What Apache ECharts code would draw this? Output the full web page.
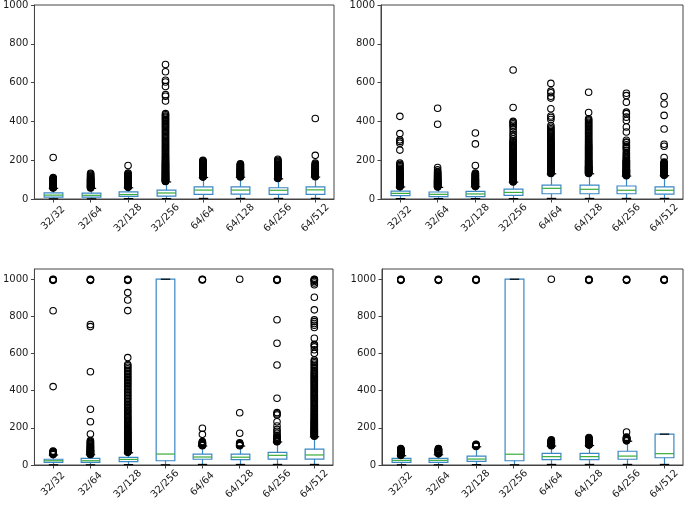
<!DOCTYPE html>
<html>
<head>
<meta charset="utf-8">
<script src="https://cdn.jsdelivr.net/npm/echarts@6/dist/echarts.min.js"></script>
<style>
html,body{margin:0;padding:0;background:#fff;}
#chart{width:685px;height:507px;}
</style>
</head>
<body>
<div id="chart"></div>
<script>
// ---------- DATA ----------
var categories = ['32/32', '32/64', '32/128', '32/256', '64/64', '64/128', '64/256', '64/512'];
var yTicksTop = [0, 200, 400, 600, 800, 1000];
var yTicksBottom = [0, 200, 400, 600, 800, 1000];

// box stats per category: [lower whisker, Q1, median, Q3, upper whisker]
var p1Stats = [
  [1, 10, 20, 32, 55], [1, 10, 19, 30, 55], [2, 14, 23, 37, 58], [2, 15, 31, 46, 88],
  [3, 24, 46, 63, 111], [3, 25, 46, 63, 112], [3, 24, 45, 58, 104], [3, 24, 47, 62, 113]
];
var p2Stats = [
  [2, 17, 29, 41, 62], [2, 12, 24, 36, 60], [2, 12, 26, 39, 63], [2, 19, 34, 51, 87],
  [3, 27, 55, 72, 130], [3, 27, 50, 72, 130], [3, 27, 45, 67, 118], [3, 25, 45, 62, 120]
];
var p3Stats = [
  [1, 14, 23, 31, 54], [1, 14, 23, 36, 55], [2, 18, 30, 41, 66], [1, 23, 59, 1000, 1000],
  [3, 31, 43, 59, 102], [3, 29, 42, 58, 102], [3, 32, 52, 68, 124], [3, 32, 54, 85, 152]
];
var p4Stats = [
  [1, 14, 25, 36, 50], [1, 14, 25, 36, 55], [2, 20, 32, 48, 98], [1, 23, 58, 1000, 1000],
  [3, 29, 45, 63, 102], [3, 29, 45, 63, 105], [3, 31, 48, 74, 128], [3, 39, 61, 166, 166]
];

// outliers per category
var p1Outliers = [
  [57,58,60,61,63,64,66,67,69,70,72,73,75,76,78,80,81,83,84,86,88,89,91,93,95,97,99,101,103,105,107,110,214],
  [57,59,60,62,64,65,67,69,71,72,74,76,78,80,82,84,86,88,90,92,94,96,98,100,103,105,108,111,114,118,123,128,133],
  [60,62,64,66,68,70,72,74,76,78,80,82,84,86,88,90,92,94,96,98,100,102,104,107,110,113,116,119,122,126,130,134,173],
  [90,92,94,96,98,100,102,104,106,108,110,112,115,117,120,122,125,127,130,132,135,138,140,143,146,149,152,155,158,161,164,167,170,173,176,180,183,186,190,194,198,202,207,212,217,222,228,233,239,245,250,256,262,268,273,279,285,291,297,303,309,316,322,329,335,342,348,355,361,368,374,380,386,392,398,404,410,416,422,428,434,440,505,530,538,580,603,612,656,693],
  [113,115,117,119,121,123,125,127,129,131,133,135,137,139,141,143,145,147,150,152,155,158,161,164,167,170,173,176,179,182,185,188,191,194,197,200],
  [114,116,118,120,122,124,126,128,130,132,134,136,138,140,142,144,146,148,150,152,155,158,161,164,167,170,173,176,179,182],
  [106,108,110,112,114,116,118,120,122,124,126,128,130,132,134,136,138,141,144,147,150,153,156,159,162,165,168,171,174,177,180,184,188,192,196,200,205],
  [115,117,119,121,123,125,127,129,131,133,135,137,139,141,143,145,148,151,154,157,160,163,166,169,172,176,180,185,225,415]
];
var p2Outliers = [
  [63,65,67,69,71,73,75,77,79,81,83,85,87,89,91,93,95,97,99,101,103,105,107,110,113,116,119,122,125,128,131,134,137,141,145,150,155,160,166,172,178,185,252,288,297,305,337,426],
  [62,64,66,68,70,72,74,76,78,80,82,84,86,88,90,92,94,96,98,100,103,106,109,112,115,118,121,125,129,133,137,141,150,162,385,468],
  [65,67,69,71,73,75,77,79,81,83,85,87,89,91,93,95,97,99,101,103,106,109,112,115,118,121,124,127,130,134,173,284,340],
  [88,90,92,94,96,98,100,102,104,106,108,110,113,116,119,122,125,128,131,134,137,140,143,146,149,152,155,158,161,164,167,170,174,178,182,186,190,194,198,202,206,210,214,218,222,226,230,235,240,245,250,255,260,265,270,275,280,285,290,295,300,310,322,333,345,360,372,380,388,395,400,472,665],
  [132,134,136,138,140,142,144,146,148,150,152,154,156,158,160,162,164,166,168,170,173,176,179,182,185,188,191,194,197,200,204,208,212,216,220,224,228,232,236,240,244,248,252,256,260,264,268,272,276,280,284,288,292,296,300,306,312,318,324,330,336,342,348,355,362,370,378,410,420,428,465,520,530,548,556,596],
  [132,134,136,138,140,142,144,146,148,150,152,154,156,158,160,162,164,166,168,170,173,176,179,182,185,188,191,194,197,200,204,208,212,216,220,224,228,232,236,240,244,248,252,256,260,264,268,272,276,280,285,290,295,300,306,312,318,324,330,336,342,348,354,360,366,372,378,384,390,396,402,408,414,446,550],
  [120,122,124,126,128,130,132,134,136,138,140,142,144,146,148,150,152,155,158,161,164,167,170,173,176,179,182,185,188,191,194,197,200,205,212,217,225,232,240,250,260,265,272,280,290,294,303,345,371,405,422,440,448,499,533,545],
  [122,124,126,128,130,132,134,136,138,140,142,144,146,148,150,152,154,156,158,160,163,166,169,172,175,178,181,184,187,190,214,272,282,361,431,490,528]
];
var p3Outliers = [
  [56,58,60,62,64,66,68,70,72,75,422,830,994,996,998,1000],
  [57,59,61,63,65,67,69,71,73,75,77,79,81,84,87,90,93,96,99,102,106,110,114,118,122,127,132,167,233,300,502,745,756,994,996,998,1000],
  [68,70,72,74,76,78,80,82,84,86,88,90,92,94,96,98,100,103,106,109,112,115,118,121,124,127,130,134,138,142,146,150,154,158,162,166,170,175,180,185,190,195,200,206,212,218,224,230,236,242,248,254,260,267,274,281,288,295,302,310,318,326,334,342,350,358,366,374,382,390,398,406,414,422,430,438,446,454,462,470,478,486,494,502,510,518,526,534,541,578,831,888,928,994,996,998,1000],
  [],
  [104,106,108,110,112,114,116,118,120,123,126,165,198,996,998,1000],
  [104,106,108,110,112,114,116,119,171,281,1000],
  [125,127,129,131,133,135,137,139,141,143,146,149,152,160,171,182,192,210,233,269,275,282,359,538,655,782,994,996,998,1000],
  [155,158,161,164,167,170,173,176,179,182,185,188,191,194,197,200,204,208,212,216,220,224,228,232,236,240,245,250,255,260,265,270,275,280,286,292,298,304,310,316,322,328,334,340,346,352,358,364,370,376,382,388,394,400,406,412,418,424,430,436,442,448,454,460,466,472,478,484,490,496,502,510,518,526,534,542,550,558,565,601,620,636,644,650,682,740,752,762,772,781,835,903,970,980,988,994,996,998,1000]
];
var p4Outliers = [
  [52,54,56,58,60,62,64,66,68,70,72,74,76,78,80,82,84,86,88,994,996,998,1000],
  [60,62,64,66,68,70,72,74,76,78,80,82,84,86,88,994,996,998,1000],
  [100,102,104,106,108,110,112,994,996,998,1000],
  [],
  [104,106,108,110,112,114,116,118,120,122,124,126,128,130,132,135,1000],
  [107,109,111,113,115,117,119,121,123,125,127,129,131,133,135,137,139,141,144,148,994,996,998,1000],
  [130,132,134,136,138,140,142,144,146,148,150,178,994,996,998,1000],
  [994,996,998,1000]
];

// ---------- CHART ----------
var panels = [
  {stats: p1Stats, out: p1Outliers, grid: {left: 32, top: 4, width: 302, height: 195}, max: 1000, ticks: yTicksTop},
  {stats: p2Stats, out: p2Outliers, grid: {left: 381, top: 4, width: 302, height: 195}, max: 1000, ticks: yTicksTop},
  {stats: p3Stats, out: p3Outliers, grid: {left: 32, top: 269, width: 301, height: 196}, max: 1055, ticks: yTicksBottom},
  {stats: p4Stats, out: p4Outliers, grid: {left: 382, top: 269, width: 301, height: 196}, max: 1055, ticks: yTicksBottom}
];

var BOX = '#3a87c4', MED = '#3aab3a', CAP = '#000000', FRAME = '#444444', TXT = '#1a1a1a';

function renderBox(params, api) {
  var xi = api.value(0);
  var pMin = api.coord([xi, api.value(1)]);
  var pQ1 = api.coord([xi, api.value(2)]);
  var pMed = api.coord([xi, api.value(3)]);
  var pQ3 = api.coord([xi, api.value(4)]);
  var pMax = api.coord([xi, api.value(5)]);
  var bw = api.size([1, 0])[0];
  var half = bw * 0.25, capHalf = bw * 0.125;
  var cx = Math.round(pMin[0]) + 0.5;
  var ls = {stroke: BOX, lineWidth: 1.2, fill: null};
  return {
    type: 'group',
    children: [
      {type: 'line', shape: {x1: cx, y1: pQ1[1], x2: cx, y2: pMin[1]}, style: ls},
      {type: 'line', shape: {x1: cx, y1: pQ3[1], x2: cx, y2: pMax[1]}, style: ls},
      {type: 'rect', shape: {x: cx - half, y: pQ3[1], width: 2 * half, height: pQ1[1] - pQ3[1]},
        style: {stroke: BOX, lineWidth: 1.2, fill: 'rgba(0,0,0,0)'}},
      {type: 'line', shape: {x1: cx - capHalf, y1: pMin[1], x2: cx + capHalf, y2: pMin[1]}, style: {stroke: CAP, lineWidth: 1.2}},
      {type: 'line', shape: {x1: cx - capHalf, y1: pMax[1], x2: cx + capHalf, y2: pMax[1]}, style: {stroke: CAP, lineWidth: 1.2}},
      {type: 'line', shape: {x1: cx - half, y1: pMed[1], x2: cx + half, y2: pMed[1]}, style: {stroke: MED, lineWidth: 1.2}}
    ]
  };
}

var grids = [], xAxes = [], yAxes = [], series = [];
panels.forEach(function (p, k) {
  grids.push(Object.assign({show: true, borderColor: FRAME, borderWidth: 1, backgroundColor: 'transparent'}, p.grid));
  xAxes.push({
    type: 'category', gridIndex: k, data: categories, boundaryGap: true,
    axisLine: {show: true, lineStyle: {color: FRAME, width: 1}},
    axisTick: {show: true, alignWithLabel: true, length: 3.5, lineStyle: {color: FRAME}},
    axisLabel: {rotate: 45, align: 'center', verticalAlign: 'middle', fontSize: 10, fontFamily: 'DejaVu Sans',
      color: TXT, margin: 19, interval: 0},
    splitLine: {show: false}
  });
  yAxes.push({
    type: 'value', gridIndex: k, min: 0, max: p.max,
    axisLine: {show: true, lineStyle: {color: FRAME, width: 1}},
    axisTick: {show: true, length: 3.5, lineStyle: {color: FRAME}, customValues: p.ticks},
    axisLabel: {fontSize: 10, fontFamily: 'DejaVu Sans', color: TXT, margin: 6, customValues: p.ticks,
      formatter: function (v) { return String(v); }},
    splitLine: {show: false}
  });
  var boxData = p.stats.map(function (s, i) { return [i].concat(s); });
  series.push({
    type: 'custom', xAxisIndex: k, yAxisIndex: k, renderItem: renderBox,
    data: boxData, encode: {x: 0, y: [1, 2, 3, 4, 5]}, z: 2, silent: true, clip: false
  });
  var pts = [];
  p.out.forEach(function (arr, i) { arr.forEach(function (v) { pts.push([i, v]); }); });
  series.push({
    type: 'scatter', xAxisIndex: k, yAxisIndex: k, data: pts,
    symbol: 'circle', symbolSize: 6.5, silent: true, z: 3,
    itemStyle: {color: 'rgba(255,255,255,0)', borderColor: '#000', borderWidth: 1.1, opacity: 1},
    emphasis: {disabled: true}
  });
});

var chart = echarts.init(document.getElementById('chart'), null, {renderer: 'canvas'});
chart.setOption({
  animation: false,
  backgroundColor: '#ffffff',
  grid: grids,
  xAxis: xAxes,
  yAxis: yAxes,
  series: series
});
</script>
</body>
</html>
